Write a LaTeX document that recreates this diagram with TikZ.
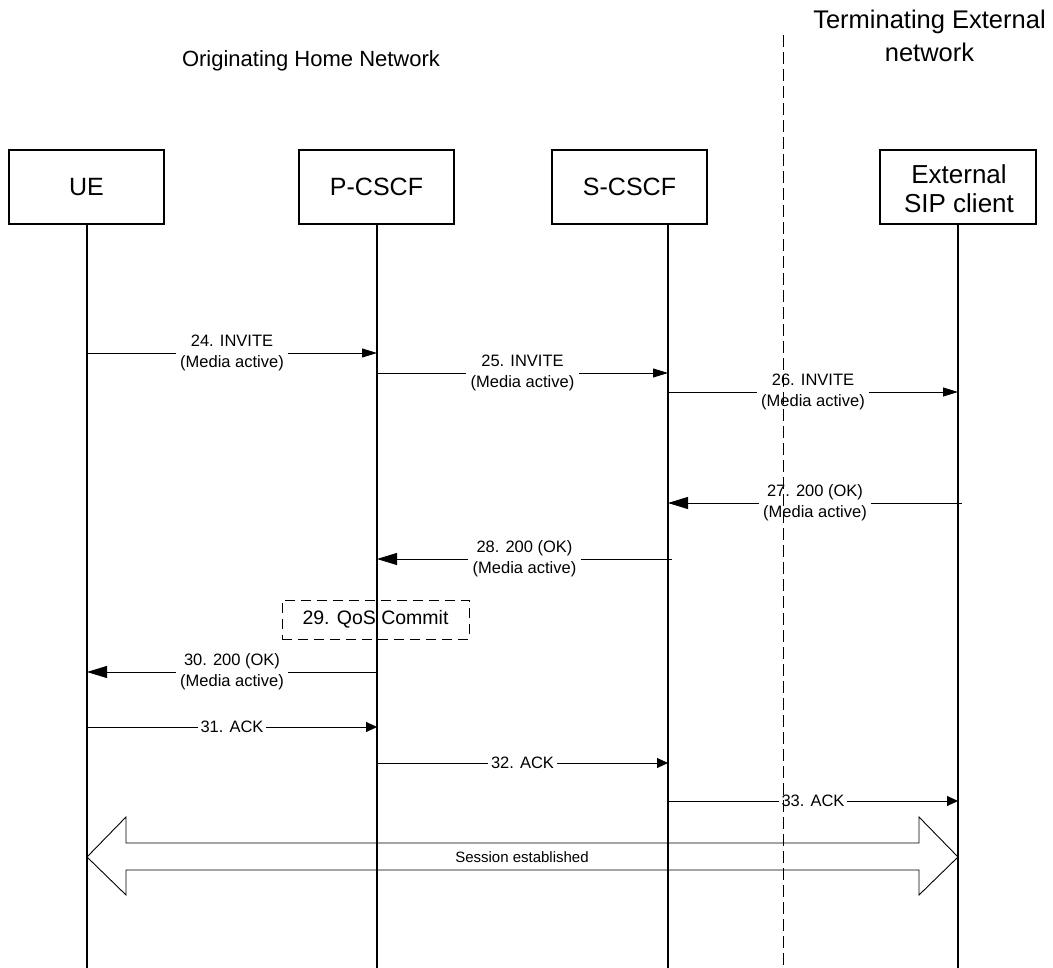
\documentclass[tikz,border=0pt]{standalone}
\usepackage{fontspec}
\setmainfont{Liberation Sans}
\usetikzlibrary{arrows.meta}
\begin{document}
\begin{tikzpicture}[x=1pt,y=-1pt,
  entity/.style={draw,line width=1.2pt,minimum width=155pt,minimum height=74pt,inner sep=0pt,align=center,font=\fontsize{25}{29}\selectfont},
  nettitle/.style={align=center},
  life/.style={line width=1.2pt},
  msg/.style={line width=0.9pt,-{Triangle[length=15pt,width=9pt]}},
  rmsg/.style={line width=0.9pt,-{Triangle[length=20pt,width=12pt]}},
  ack/.style={line width=0.9pt,-{Triangle[length=11pt,width=10pt]}},
  lbl/.style={fill=white,align=center,inner xsep=4.5pt,inner ysep=1pt,font=\fontsize{16.5}{21}\selectfont},
  ]
\useasboundingbox (0,0) rectangle (1053,968);

% titles
\node[nettitle,font=\fontsize{22}{30}\selectfont] (orig) at (311,61) {Originating Home Network};
\node[nettitle,font=\fontsize{25.5}{33}\selectfont] (term) at (929.5,36) {Terminating External\\network};

% entities
\node[entity] (ue) at (86.5,187) {UE};
\node[entity] (pc) at (376.5,187) {P-CSCF};
\node[entity] (sc) at (629.5,187) {S-CSCF};
\node[entity,minimum width=156pt] (ex) at (958,187) {};
\node[align=center,font=\fontsize{26}{29}\selectfont] (exlbl) at (959,189) {External\\SIP client};

% lifeline coordinates
\coordinate (uel) at (87,224);  \coordinate (ueb) at (87,968);
\coordinate (pl) at (377,224);  \coordinate (pb) at (377,968);
\coordinate (sl) at (668,224);  \coordinate (sb) at (668,968);
\coordinate (el) at (958,224);  \coordinate (eb) at (958,968);

\draw[life] (uel) -- (ueb);
\draw[life] (pl) -- (pb);
\draw[life] (sl) -- (sb);
\draw[life] (el) -- (eb);

% message rows
\coordinate (y24) at (0,353);
\coordinate (y25) at (0,373);
\coordinate (y26) at (0,392);
\coordinate (y27) at (0,503);
\coordinate (y28) at (0,559);
\coordinate (y30) at (0,672);
\coordinate (y31) at (0,727);
\coordinate (y32) at (0,763);
\coordinate (y33) at (0,801);

\draw[msg] (uel |- y24) -- node[lbl]{24. INVITE\\(Media active)} (pl |- y24);
\draw[msg] (pl |- y25) -- node[lbl]{25. INVITE\\(Media active)} (sl |- y25);
\draw[msg] (sl |- y26) -- node[lbl]{26. INVITE\\(Media active)} (el |- y26);
\draw[rmsg] ([xshift=4pt]el |- y27) -- node[lbl]{27. 200 (OK)\\(Media active)} (sl |- y27);
\draw[rmsg] ([xshift=4pt]sl |- y28) -- node[lbl]{28. 200 (OK)\\(Media active)} (pl |- y28);

\node[draw,line width=1pt,dash pattern=on 10pt off 6pt,minimum width=187pt,minimum height=39pt,inner sep=0pt,font=\fontsize{19.5}{23}\selectfont] (qos) at (375.5,619.5) {29. QoS Commit};

\draw[rmsg] (pl |- y30) -- node[lbl]{30. 200 (OK)\\(Media active)} (uel |- y30);
\draw[ack] (uel |- y31) -- node[lbl,inner xsep=3pt]{31. ACK} (pl |- y31);
\draw[ack] (pl |- y32) -- node[lbl,inner xsep=3pt]{32. ACK} (sl |- y32);
\draw[ack] (sl |- y33) -- node[lbl,inner xsep=3pt]{33. ACK} (el |- y33);

% session established double arrow
\draw[line width=0.9pt,line join=miter]
  (87,857) -- (126,817) -- (126,843) -- (919,843) -- (919,817) -- (958,857)
  -- (919,895) -- (919,870) -- (126,870) -- (126,895) -- cycle;
\node[font=\fontsize{15}{18}\selectfont] (sess) at (522,857) {Session established};

% network border
\coordinate (dt) at (783,35);
\coordinate (db) at (783,968);
\draw[line width=1pt,dash pattern=on 12pt off 5pt] (dt) -- (db);
\end{tikzpicture}
\end{document}
